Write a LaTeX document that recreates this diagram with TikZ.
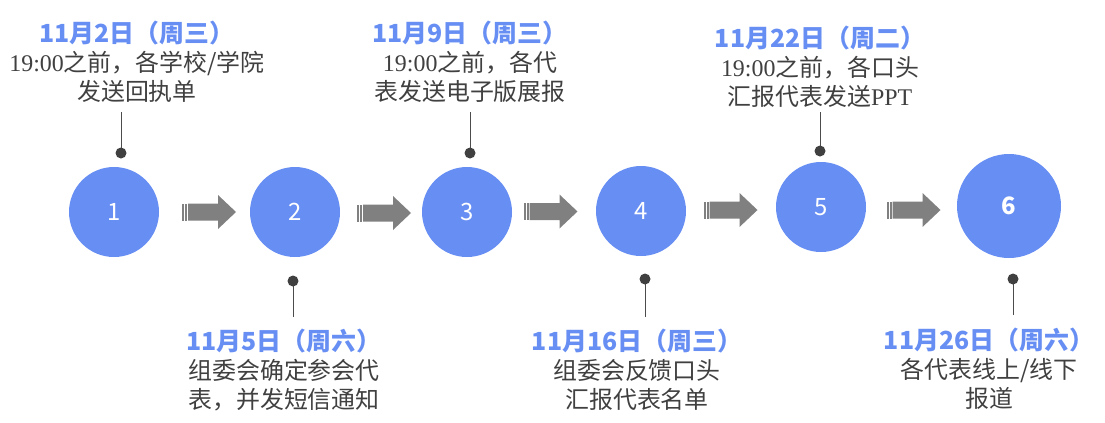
\documentclass[tikz,border=0pt]{standalone}
\usepackage{fontspec}
\setmainfont{Noto Sans CJK SC}
\newfontfamily\serfont{Liberation Serif}

\definecolor{stageblue}{RGB}{103,142,243}
\definecolor{notegray}{RGB}{64,64,64}
\definecolor{arrowgray}{RGB}{128,128,128}
\newcommand{\ser}[1]{{\serfont #1}}
\newcommand{\datum}[1]{{\color{stageblue}\fontsize{25}{29}\selectfont\bfseries #1}}

\begin{document}
\begin{tikzpicture}[x=1bp,y=-1bp,
  stage/.style={circle,fill=stageblue,text=white,minimum size=90bp,inner sep=0pt,font=\fontsize{24}{24}\selectfont},
  note/.style={align=center,text=notegray,inner sep=0pt,font=\fontsize{24}{29}\selectfont},
  pinline/.style={draw=black!70,line width=1bp}]

\useasboundingbox (0,0) rectangle (1105,422);

\node[stage] (c1) at (114,212) {1};
\node[stage] (c2) at (295,212) {2};
\node[stage] (c3) at (467,212) {3};
\node[stage] (c4) at (641,211) {4};
\node[stage] (c5) at (821,207) {5};
\node[stage,minimum size=104bp,font=\fontsize{24}{24}\selectfont\bfseries] (c6) at (1009,206) {6};

% block arrows between the stages
\foreach \x/\y in {209/212,384/213,550.5/211.5,730.5/210,913.5/210} {
  \begin{scope}[shift={(\x,\y)}]
    \fill[arrowgray] (-21,-8.5) -- (9,-8.5) -- (9,-17) -- (27,0) -- (9,17) -- (9,8.5) -- (-21,8.5) -- cycle;
    \fill[arrowgray] (-27,-8.5) rectangle (-25,8.5);
    \fill[arrowgray] (-24,-8.5) rectangle (-22,8.5);
  \end{scope}
}

% pins
\foreach \i/\x/\y/\e in {1/121/153/112,2/293/281/317,3/470/153/112,4/645/279/317,5/820/151/112,6/1013/279/315} {
  \coordinate (d\i) at (\x,\y);
  \coordinate (e\i) at (\x,\e);
  \draw[pinline] (d\i) -- (e\i);
  \fill[notegray] (d\i) circle (5.5bp);
}

\node[note] (t1) at (137,62) {\datum{11月2日（周三）}\\ \ser{19:00}之前，各学校/学院\\ 发送回执单};
\node[note] (t2) at (284,370) {\datum{11月5日（周六）}\\ 组委会确定参会代\\ 表，并发短信通知};
\node[note] (t3) at (470,62) {\datum{11月9日（周三）}\\ \ser{19:00}之前，各代\\ 表发送电子版展报};
\node[note] (t4) at (637,370) {\datum{11月16日（周三）}\\ 组委会反馈口头\\ 汇报代表名单};
\node[note] (t5) at (820,67) {\datum{11月22日（周二）}\\ \ser{19:00}之前，各口头\\ 汇报代表发送\ser{PPT}};
\node[note] (t6) at (989,369) {\datum{11月26日（周六）}\\ 各代表线上/线下\\ 报道};
\end{tikzpicture}
\end{document}
